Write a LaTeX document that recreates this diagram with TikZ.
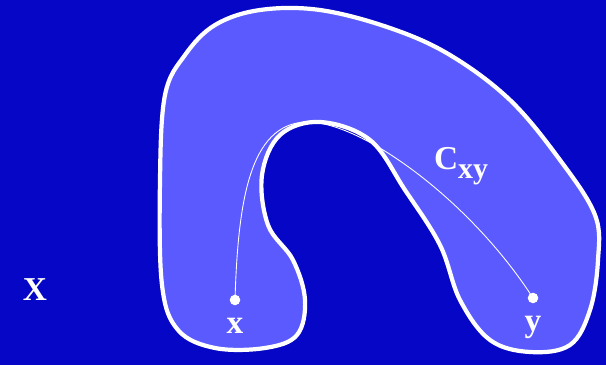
\documentclass[tikz,border=0pt]{standalone}
\usepackage{fontspec}
\setmainfont{Liberation Serif}
\usetikzlibrary{positioning}
\definecolor{bgblue}{RGB}{6,6,198}
\definecolor{regionblue}{RGB}{90,90,255}

\begin{document}
\begin{tikzpicture}[x=0.02cm, y=-0.02cm]
  \tikzset{
    lbl/.style={text=white, font=\bfseries\fontsize{19}{22}\selectfont, inner sep=0pt},
    dot/.style={circle, fill=white, inner sep=0pt, minimum size=6pt}
  }
  % Background
  \fill[bgblue] (0,0) rectangle (606,365);
  \useasboundingbox (0,0) rectangle (606,365);

  % Horseshoe region
  \draw[white, line width=2.4pt, fill=regionblue] plot[smooth cycle, tension=0.6] coordinates {
    (165,95) (185,55) (215,25) (260,10) (320,10) (390,28) (450,55) (510,100)
    (560,160) (595,215) (598,260) (590,310) (570,345) (530,352) (490,340)
    (460,300) (440,245) (405,190) (370,140) (320,122) (280,135) (262,175)
    (268,225) (293,260) (305,300) (297,335) (265,348) (215,348) (178,330)
    (162,285) (160,180)};

  % End points
  \node[dot] (ptx) at (235,300) {};
  \node[dot] (pty) at (533,298) {};
  \node[lbl, below=7pt of ptx] (labx) {x};
  \node[lbl, below=7pt of pty] (laby) {y};

  % Path from x to y
  \draw[white, line width=0.5pt] (ptx.center) .. controls (238,200) and (250,125) .. (305,122)
    .. controls (360,120) and (470,200) .. (pty.center);

  % Labels
  \node[lbl] (cxy) at (461,166) {C\raisebox{-0.25em}{\fontsize{17}{20}\selectfont xy}};
  \node[lbl] (space) at (35,290) {X};
\end{tikzpicture}
\end{document}
